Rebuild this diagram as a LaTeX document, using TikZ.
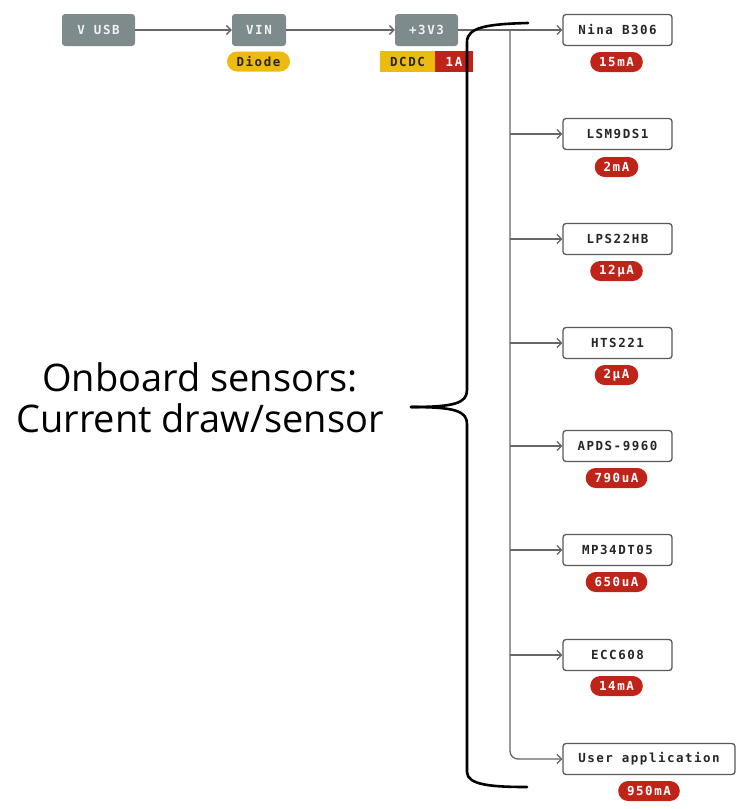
\documentclass[tikz,border=0pt]{standalone}
\usepackage{fontspec}
\setmainfont{Open Sans}
\newfontfamily\labfont{DejaVu Sans Mono}[LetterSpace=12]
\usetikzlibrary{arrows.meta}
\definecolor{boxgray}{HTML}{7D8B8C}
\definecolor{pillyellow}{HTML}{EDBB0F}
\definecolor{pillred}{HTML}{BF2418}
\definecolor{linegray}{HTML}{666666}
\begin{document}
\begin{tikzpicture}[x=1pt,y=-1pt,
  lab/.style={font=\labfont\bfseries\fontsize{12.5}{14}\selectfont},
  graybox/.style={lab, fill=boxgray, rounded corners=3pt, minimum height=32pt, text=white!90!gray, inner sep=0pt},
  devbox/.style={lab, draw=black!65, line width=1.3pt, rounded corners=3pt, fill=white, minimum width=109pt, minimum height=31pt, inner sep=0pt, text=black!85},
  pill/.style={lab, fill=pillred, rounded corners=10pt, minimum height=20pt, inner xsep=9pt, inner ysep=0pt, text=white},
  ypill/.style={pill, fill=pillyellow, text=black!85},
  flat/.style={lab, minimum height=21pt, inner sep=0pt},
  conn/.style={draw=linegray, line width=1.3pt, -{Straight Barb[length=4.5pt,width=9pt]}},
  brace/.style={line width=2.6pt, black, line cap=round}
]
\useasboundingbox (0,0) rectangle (740,809);

% top chain
\node[graybox, minimum width=73pt] (vusb) at (98.5,30) {V USB};
\node[graybox, minimum width=54pt] (vin) at (259,30) {VIN};
\node[graybox, minimum width=63pt] (v33) at (426.5,30) {+3V3};
\node[ypill, minimum width=63pt] (diode) at (258.5,61.5) {Diode};
\node[flat, fill=pillyellow, minimum width=55pt, text=black!85] (dcdc) at (407.5,61.5) {DCDC};
\node[flat, fill=pillred, minimum width=38pt, text=white] (onea) at (454,61.5) {1A};

\draw[conn] (vusb) -- (vin);
\draw[conn] (vin) -- (v33);

% devices
\node[devbox] (nina) at (617.5,30) {Nina B306};
\node[devbox] (lsm) at (617.5,134) {LSM9DS1};
\node[devbox] (lps) at (617.5,239) {LPS22HB};
\node[devbox] (hts) at (617.5,343) {HTS221};
\node[devbox] (apds) at (617.5,446) {APDS-9960};
\node[devbox] (mp) at (617.5,550) {MP34DT05};
\node[devbox] (ecc) at (617.5,655) {ECC608};
\node[devbox, minimum width=172pt] (user) at (649,759) {User application};

\node[pill] (p1) at (616.5,62) {15mA};
\node[pill] (p2) at (616.5,167) {2mA};
\node[pill] (p3) at (616.5,271) {12µA};
\node[pill] (p4) at (616.5,375) {2µA};
\node[pill] (p5) at (616.5,478) {790uA};
\node[pill] (p6) at (616.5,582) {650uA};
\node[pill] (p7) at (616.5,686) {14mA};
\node[pill] (p8) at (649,791) {950mA};

% bus
\coordinate (bus) at (510,30);
\draw[conn] (v33) -- (nina);
\draw[conn, rounded corners=8pt] (bus) |- (user.west);
\foreach \d in {lsm,lps,hts,apds,mp,ecc}
  \draw[conn] (\d.west -| bus) -- (\d.west);

% brace
\draw[brace] (528,23) .. controls (488,24) and (467,27) .. (467,42) -- (467,390)
  .. controls (467,403) and (455,407) .. (411,407);
\draw[brace] (411,407) .. controls (455,407) and (467,411) .. (467,424) -- (467,772)
  .. controls (467,785) and (492,787) .. (527,787);

\node[font=\fontsize{38}{41}\selectfont, align=center, inner sep=0pt] (label) at (200,398)
  {Onboard sensors:\\Current draw/sensor};
\end{tikzpicture}
\end{document}
